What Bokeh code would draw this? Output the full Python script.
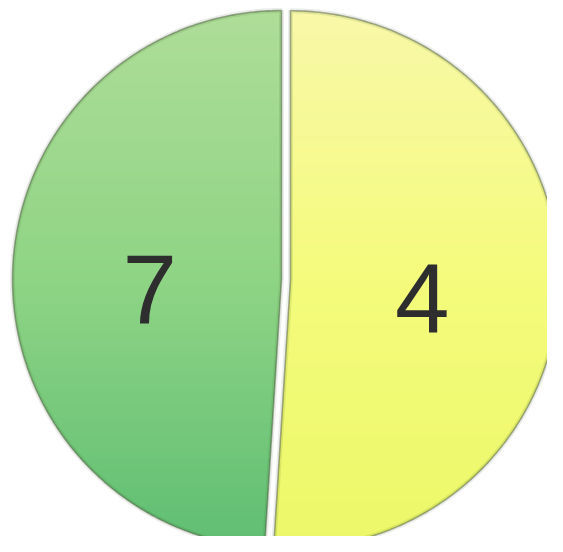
import numpy as np
from bokeh.plotting import figure
from bokeh.models import Range1d
from bokeh.embed import file_html
from bokeh.resources import INLINE
from bokeh.core.properties import value

# ---- data ----
labels = ["7", "4"]
shares = [49.0, 51.0]          # percent of the circle each slice covers
top_colors = ["#aedd98", "#f8f8a8"]
mid_colors = ["#8fd485", "#f4fb7c"]
bottom_colors = ["#5fbe73", "#ecf868"]

W, H = 547, 536
R = 269.0
CX, CY = 281.0, 273.0
EXPLODE = [0.0, 9.0]
START = np.pi / 2

p = figure(width=W, height=H, output_backend="svg", toolbar_location=None,
           x_range=Range1d(0, W), y_range=Range1d(552 - H, 552), min_border=0)
p.axis.visible = False
p.grid.visible = False
p.outline_line_color = None
p.background_fill_color = "white"
p.border_fill_color = "white"


def clip_band(poly, y0, y1):
    def clip(pts, keep, inter):
        out = []
        n = len(pts)
        for i in range(n):
            a, b = pts[i - 1], pts[i]
            ka, kb = keep(a), keep(b)
            if kb:
                if not ka:
                    out.append(inter(a, b))
                out.append(b)
            elif ka:
                out.append(inter(a, b))
        return out

    def ix(yc):
        def f(a, b):
            t = (yc - a[1]) / (b[1] - a[1])
            return (a[0] + t * (b[0] - a[0]), yc)
        return f

    pts = clip(poly, lambda q: q[1] >= y0, ix(y0))
    if not pts:
        return []
    pts = clip(pts, lambda q: q[1] <= y1, ix(y1))
    return pts


def hex2rgb(h):
    h = h.lstrip("#")
    return np.array([int(h[i:i + 2], 16) for i in (0, 2, 4)], float)


def rgb2hex(c):
    return "#%02x%02x%02x" % tuple(int(round(v)) for v in c)


def grad(f, i):
    # f: 0 bottom .. 1 top
    ct, cm, cb = hex2rgb(top_colors[i]), hex2rgb(mid_colors[i]), hex2rgb(bottom_colors[i])
    if f >= 0.5:
        return cm + (ct - cm) * (f - 0.5) * 2
    return cb + (cm - cb) * f * 2


total = sum(shares)
a = START
nb = 90
for i, (lab, s) in enumerate(zip(labels, shares)):
    span = 2 * np.pi * s / total
    a0, a1 = a, a + span
    a = a1
    mid = (a0 + a1) / 2
    cx = CX + EXPLODE[i] * np.cos(mid)
    cy = CY + EXPLODE[i] * np.sin(mid)
    th = np.linspace(a0, a1, 240)
    poly = [(cx, cy)] + [(cx + R * np.cos(t), cy + R * np.sin(t)) for t in th]
    edges = np.linspace(cy - R, cy + R, nb + 1)
    xs, ys, cols = [], [], []
    for k in range(nb):
        y0, y1 = edges[k], edges[k + 1] + 0.8
        pts = clip_band(poly, y0, y1)
        if len(pts) < 3:
            continue
        f = ((edges[k] + edges[k + 1]) / 2 - (cy - R)) / (2 * R)
        xs.append([q[0] for q in pts])
        ys.append([q[1] for q in pts])
        cols.append(rgb2hex(grad(f, i)))
    p.patches(xs, ys, fill_color=cols, line_color=None)
    # soft bevel just inside the rim
    p.patches([[q[0] for q in poly]], [[q[1] for q in poly]], fill_color=None,
              line_color="#2f4a20", line_alpha=0.10, line_width=5)
    # rim
    p.patches([[q[0] for q in poly]], [[q[1] for q in poly]], fill_color=None,
              line_color="#3d4d30", line_alpha=0.45, line_width=1.6)
    # label
    lr = 0.49 * R
    p.text([cx + lr * np.cos(mid)], [cy + lr * np.sin(mid)], text=[lab],
           text_font=value("Liberation Sans"), text_font_size="98px",
           text_color="#2e2e2e", text_align="center", text_baseline="middle",
           y_offset=14)

html = file_html(p, INLINE)
open("out.html", "w").write(html)
